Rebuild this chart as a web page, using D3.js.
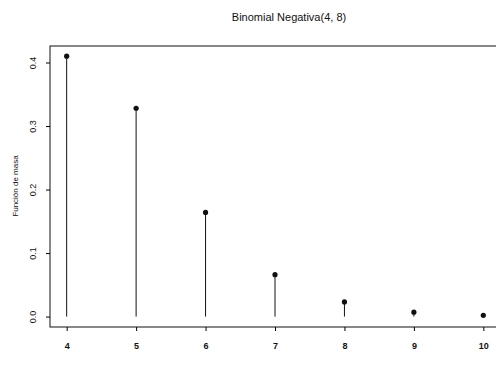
<!DOCTYPE html>
<html>
<head>
<meta charset="utf-8">
<script src="https://cdn.jsdelivr.net/npm/d3@7"></script>
<style>
  body { margin: 0; background: #fff; }
  text { font-family: "Liberation Sans", Arial, sans-serif; fill: #111; }
</style>
</head>
<body>
<script>
// values k and probability mass
var kValues = [4, 5, 6, 7, 8, 9, 10];
var massValues = [0.410, 0.328, 0.164, 0.066, 0.023, 0.007, 0.002];
var yTicks = [0.0, 0.1, 0.2, 0.3, 0.4];
var yTickLabels = ["0.0", "0.1", "0.2", "0.3", "0.4"];

window.onload = function() {
  var w = 496, h = 370;
  var left = 50, right = 500, top = 46, bottom = 327;

  var svg = d3.select("body").append("svg")
    .attr("width", w)
    .attr("height", h);

  //x scale with R style padding
  var x = d3.scaleLinear()
    .domain([3.76, 10.24])
    .range([left, right]);

  var y = d3.scaleLinear()
    .domain([-0.0164, 0.426])
    .range([bottom, top]);

  //plot box
  svg.append("rect")
    .attr("x", left)
    .attr("y", top)
    .attr("width", right - left)
    .attr("height", bottom - top)
    .attr("fill", "none")
    .attr("stroke", "#111")
    .attr("stroke-width", 1);

  //stems
  svg.selectAll(".stem")
    .data(kValues)
    .enter()
    .append("line")
    .attr("class", "stem")
    .attr("x1", function(d) { return x(d); })
    .attr("x2", function(d) { return x(d); })
    .attr("y1", y(0))
    .attr("y2", function(d, i) { return y(massValues[i]); })
    .attr("stroke", "#111")
    .attr("stroke-width", 1);

  //points
  svg.selectAll(".pt")
    .data(kValues)
    .enter()
    .append("circle")
    .attr("class", "pt")
    .attr("cx", function(d) { return x(d); })
    .attr("cy", function(d, i) { return y(massValues[i]); })
    .attr("r", 2.6)
    .attr("fill", "#111");

  //x axis
  var xAxis = d3.axisBottom(x)
    .tickValues(kValues)
    .tickSize(4)
    .tickPadding(12)
    .tickFormat(d3.format("d"));
  var gx = svg.append("g")
    .attr("transform", "translate(0," + bottom + ")")
    .call(xAxis);
  gx.select(".domain").remove();
  gx.selectAll("text")
    .style("font-size", "9px")
    .style("font-weight", "bold");

  //y axis, labels rotated like R
  var yAxis = d3.axisLeft(y)
    .tickValues(yTicks)
    .tickSize(4)
    .tickFormat(function(d, i) { return yTickLabels[i]; });
  var gy = svg.append("g")
    .attr("transform", "translate(" + left + ",0)")
    .call(yAxis);
  gy.select(".domain").remove();
  gy.selectAll("text")
    .attr("x", 0)
    .attr("y", 0)
    .attr("dy", null)
    .attr("text-anchor", "middle")
    .attr("transform", "translate(-14,0) rotate(-90)")
    .style("font-size", "9px");

  //title
  svg.append("text")
    .attr("x", 289)
    .attr("y", 21)
    .attr("text-anchor", "middle")
    .style("font-size", "11px")
    .text("Binomial Negativa(4, 8)");

  //y label
  svg.append("text")
    .attr("transform", "translate(18," + 186 + ") rotate(-90)")
    .attr("text-anchor", "middle")
    .style("font-size", "8px")
    .text("Función de masa");
};
</script>
</body>
</html>
